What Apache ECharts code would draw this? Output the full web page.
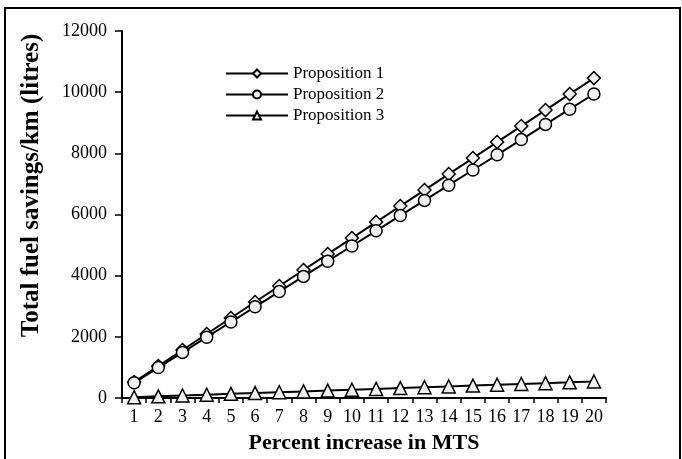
<!DOCTYPE html>
<html>
<head>
<meta charset="utf-8">
<script src="https://cdn.jsdelivr.net/npm/echarts@6/dist/echarts.min.js"></script>
<style>
  html, body { margin: 0; padding: 0; background: #fff; }
  #chart { width: 682px; height: 459px; }
</style>
</head>
<body>
<div id="chart"></div>
<script>
// 横轴：MTS 增加百分比
const categories = ['1', '2', '3', '4', '5', '6', '7', '8', '9', '10',
  '11', '12', '13', '14', '15', '16', '17', '18', '19', '20'];

const proposition1 = [523, 1046, 1569, 2092, 2615, 3138, 3661, 4184, 4707, 5230,
  5753, 6276, 6799, 7322, 7845, 8368, 8891, 9414, 9937, 10460];
const proposition2 = [497, 994, 1491, 1988, 2485, 2982, 3479, 3976, 4473, 4970,
  5467, 5964, 6461, 6958, 7455, 7952, 8449, 8946, 9443, 9940];
const proposition3 = [27, 54, 81, 108, 135, 162, 189, 216, 243, 270,
  297, 324, 351, 378, 405, 432, 459, 486, 513, 540];

const yTicks = [0, 2000, 4000, 6000, 8000, 10000, 12000];

const font = 'Liberation Serif, Times New Roman, serif';

const makeSeries = (name, data, symbol, size) => ({
  name: name,
  type: 'line',
  data: data,
  symbol: symbol,
  symbolSize: size,
  showAllSymbol: true,
  lineStyle: { color: '#000', width: 2 },
  itemStyle: { color: '#f0f0f0', borderColor: '#000', borderWidth: 1.5 },
  emphasis: { disabled: true }
});

const chart = echarts.init(document.getElementById('chart'), null, { renderer: 'canvas' });

chart.setOption({
  animation: false,
  grid: { left: 122, right: 76, top: 31, bottom: 54, containLabel: false },
  legend: {
    left: 220,
    top: 60,
    orient: 'vertical',
    itemWidth: 62,
    itemHeight: 10,
    itemGap: 4,
    textStyle: { fontFamily: font, fontSize: 17, color: '#000', lineHeight: 17 },
    data: ['Proposition 1', 'Proposition 2', 'Proposition 3']
  },
  xAxis: {
    type: 'category',
    data: categories,
    boundaryGap: true,
    name: 'Percent increase in MTS',
    nameLocation: 'middle',
    nameGap: 34,
    nameTextStyle: { fontFamily: font, fontSize: 22, fontWeight: 'bold', color: '#000' },
    axisLine: { lineStyle: { color: '#000', width: 2 } },
    axisTick: { show: true, length: 5, lineStyle: { color: '#000', width: 1.5 } },
    axisLabel: { fontFamily: font, fontSize: 18, color: '#000', margin: 10, interval: 0 }
  },
  yAxis: {
    type: 'value',
    min: yTicks[0],
    max: yTicks[yTicks.length - 1],
    interval: 2000,
    name: 'Total fuel savings/km (litres)',
    nameLocation: 'middle',
    nameGap: 78,
    nameTextStyle: {
      fontFamily: font, fontSize: 25, fontWeight: 'bold', color: '#000',
      padding: [0, 0, 0, 58]
    },
    axisLine: { show: true, lineStyle: { color: '#000', width: 2 } },
    axisTick: { show: true, length: 7, lineStyle: { color: '#000', width: 1.5 } },
    axisLabel: {
      fontFamily: font, fontSize: 18, color: '#000', margin: 15,
      formatter: (v) => String(v)
    },
    splitLine: { show: false }
  },
  graphic: [{
    type: 'rect',
    shape: { x: 5, y: 8, width: 675, height: 470 },
    style: { fill: 'none', stroke: '#000', lineWidth: 2 },
    silent: true
  }],
  series: [
    makeSeries('Proposition 1', proposition1, 'diamond', 13),
    makeSeries('Proposition 2', proposition2, 'circle', 12),
    makeSeries('Proposition 3', proposition3, 'triangle', 13)
  ]
});
</script>
</body>
</html>
